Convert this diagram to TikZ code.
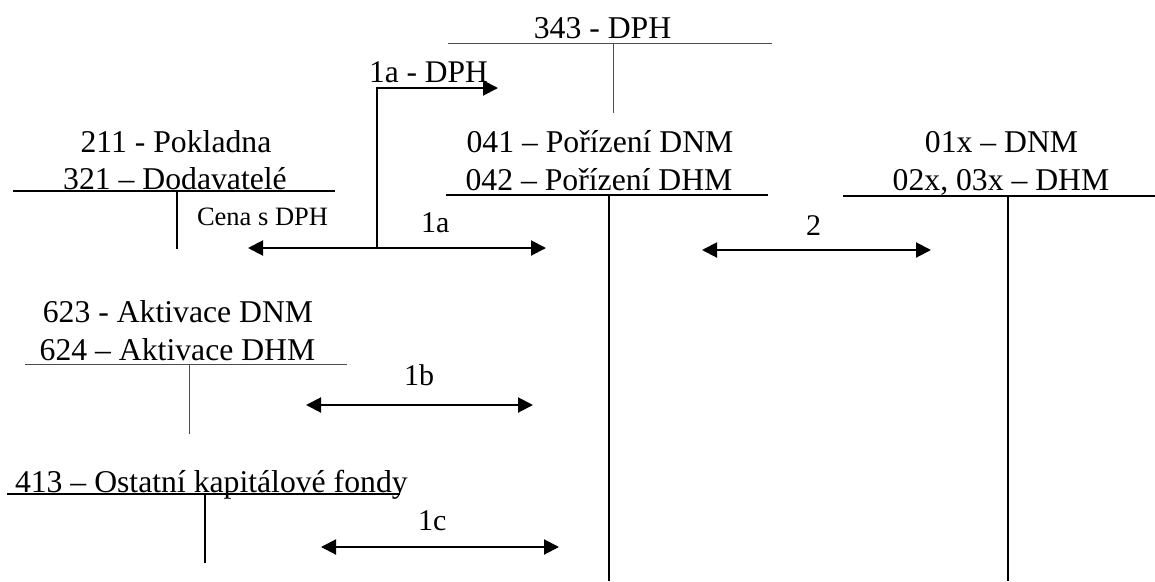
\documentclass[tikz,border=0pt]{standalone}
\usepackage{fontspec}
\setmainfont{Liberation Serif}
\usetikzlibrary{arrows.meta}
\begin{document}
\begin{tikzpicture}[x=1pt,y=-1pt,
  acct/.style={inner sep=0pt,outer sep=0pt,anchor=base,font=\fontsize{31.7}{36}\selectfont},
  lbl/.style={inner sep=0pt,outer sep=0pt,anchor=base west,font=\fontsize{30}{34}\selectfont},
  small/.style={inner sep=0pt,outer sep=0pt,anchor=base west,font=\fontsize{26.5}{30}\selectfont},
  tline/.style={line width=1.4pt,black},
  tthin/.style={line width=1pt,black!70},
  flow/.style={line width=2pt,-{Triangle[length=15pt,width=15pt]}},
  flow2/.style={line width=2pt,{Triangle[length=15pt,width=15pt]}-{Triangle[length=15pt,width=15pt]}}
]
\useasboundingbox (0,0) rectangle (1155,581);

% texts
\node[acct] (t343) at (602.5,38) {343 - DPH};
\node[acct] (t211) at (176,152) {211 - Pokladna};
\node[acct] (t321) at (175,189) {321 – Dodavatelé};
\node[acct] (t041) at (600,152) {041 – Pořízení DNM};
\node[acct] (t042) at (599,190) {042 – Pořízení DHM};
\node[acct] (t01x) at (1001.5,152) {01x – DNM};
\node[acct] (t02x) at (1001,190) {02x, 03x – DHM};
\node[acct] (t623) at (178,322) {623 - Aktivace DNM};
\node[acct] (t624) at (177.5,360) {624 – Aktivace DHM};
\node[acct,anchor=base west] (t413) at (15,492) {413 – Ostatní kapitálové fondy};
\node[small] (cena) at (197,225) {Cena s DPH};
\node[lbl,font=\fontsize{31.5}{36}\selectfont] (l1adph) at (369,82) {1a - DPH};
\node[lbl] (l1a) at (421,232) {1a};
\node[lbl] (l2) at (806,235) {2};
\node[lbl] (l1b) at (404,385) {1b};
\node[lbl] (l1c) at (418,530) {1c};

% T accounts
\coordinate (a343l) at (448,43); \coordinate (a343r) at (772,43);
\coordinate (a343t) at (613,43); \coordinate (a343b) at (613,113);
\draw[tthin] (a343l) -- (a343r);
\draw[tthin] (a343t) -- (a343b);

\coordinate (a321l) at (13,191); \coordinate (a321r) at (335,191);
\coordinate (a321t) at (177,191); \coordinate (a321b) at (177,249);
\draw[tline] (a321l) -- (a321r);
\draw[tline] (a321t) -- (a321b);

\coordinate (a042l) at (446,195); \coordinate (a042r) at (768,195);
\coordinate (a042t) at (609,195); \coordinate (a042b) at (609,581);
\draw[tline] (a042l) -- (a042r);
\draw[tline] (a042t) -- (a042b);

\coordinate (a02xl) at (843,196); \coordinate (a02xr) at (1155,196);
\coordinate (a02xt) at (1008,196); \coordinate (a02xb) at (1008,581);
\draw[tline] (a02xl) -- (a02xr);
\draw[tline] (a02xt) -- (a02xb);

\coordinate (a624l) at (25,364); \coordinate (a624r) at (347,364);
\coordinate (a624t) at (189,364); \coordinate (a624b) at (189,434);
\draw[tthin] (a624l) -- (a624r);
\draw[tthin] (a624t) -- (a624b);

\coordinate (a413l) at (7,494); \coordinate (a413r) at (400,494);
\coordinate (a413t) at (205,494); \coordinate (a413b) at (205,563);
\draw[tline] (a413l) -- (a413r);
\draw[tline] (a413t) -- (a413b);

% flows
\coordinate (j1) at (377,248);
\coordinate (j1top) at (377,88);
\coordinate (dphtip) at (498,88);
\coordinate (f1al) at (248,248);
\coordinate (f1ar) at (546,248);
\draw[flow] (j1) -- (j1top) -- (dphtip);
\draw[flow] (j1) -- (f1al);
\draw[flow] (j1) -- (f1ar);

\coordinate (f2l) at (702,250); \coordinate (f2r) at (931,250);
\draw[flow2] (f2l) -- (f2r);

\coordinate (f1bl) at (306,405); \coordinate (f1br) at (533,405);
\draw[flow2] (f1bl) -- (f1br);

\coordinate (f1cl) at (321,547); \coordinate (f1cr) at (559,547);
\draw[flow2] (f1cl) -- (f1cr);
\end{tikzpicture}
\end{document}
